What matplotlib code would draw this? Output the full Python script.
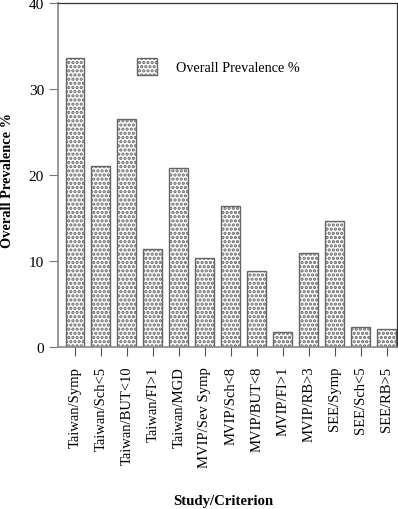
import numpy as np
import matplotlib
matplotlib.use('Agg')
import matplotlib.pyplot as plt

# data
studies = ['Taiwan/Symp', 'Taiwan/Sch<5', 'Taiwan/BUT<10', 'Taiwan/FI>1',
           'Taiwan/MGD', 'MVIP/Sev Symp', 'MVIP/Sch<8', 'MVIP/BUT<8',
           'MVIP/FI>1', 'MVIP/RB>3', 'SEE/Symp', 'SEE/Sch<5', 'SEE/RB>5']
prevalence = [33.6, 21.0, 26.5, 11.4, 20.8, 10.4, 16.4, 8.8, 1.7, 10.9, 14.6, 2.3, 2.1]
yticks = [0, 10, 20, 30, 40]

plt.rcParams['font.family'] = 'Liberation Serif'
plt.rcParams['hatch.linewidth'] = 1.6
plt.rcParams['hatch.color'] = 'black'

W, H = 398, 510
fig = plt.figure(figsize=(W/100, H/100), dpi=100)
ax = fig.add_axes([58/W, 1-348/H, (397-58)/W, (348-4)/H])

x = np.arange(len(studies))
ax.bar(x, prevalence, width=0.73, color='white', edgecolor='#666666',
       linewidth=1.0, hatch='....', label='Overall Prevalence %')

ax.set_xlim(-0.655, 12.4)
ax.set_ylim(0, 40)
ax.set_yticks(yticks)
ax.set_xticks(x)
ax.set_xticklabels(studies, rotation=90, fontsize=10.5)
ax.tick_params(axis='y', labelsize=11, length=6.5, width=0.8, color='#777777', direction='out', pad=3.6)
ax.tick_params(axis='x', length=6.5, width=0.8, color='#555555', direction='out', pad=7)

for s in ['left', 'bottom']:
    ax.spines[s].set_color('#888888')
    ax.spines[s].set_linewidth(1.2)
for s in ['top', 'right']:
    ax.spines[s].set_color('#333333')
    ax.spines[s].set_linewidth(0.9)

fig.text(7.5/W, 1-181/H, 'Overall Prevalence %', fontsize=10.4, fontweight='bold',
         rotation=90, ha='center', va='center')
fig.text(223/W, 1-502/H, 'Study/Criterion', fontsize=10.6, fontweight='bold', ha='center', va='center')

leg = ax.legend(loc='center left', bbox_to_anchor=(137/W, 1-67.5/H), bbox_transform=fig.transFigure,
                frameon=False, borderpad=0, borderaxespad=0, fontsize=10.3, handlelength=1.4,
                handleheight=1.47, handletextpad=1.33)

fig.savefig('out.png', dpi=100)
